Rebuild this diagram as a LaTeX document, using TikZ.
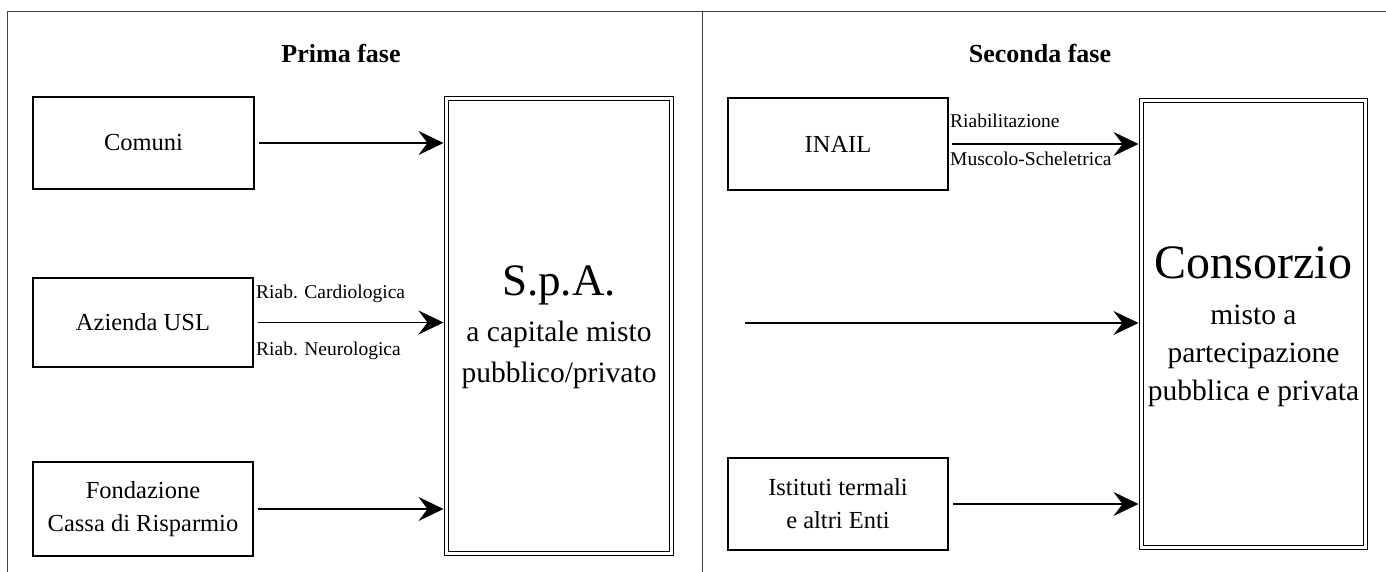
\documentclass[tikz,border=0pt]{standalone}
\usepackage{fontspec}
\setmainfont{Liberation Serif}
\usetikzlibrary{arrows.meta}
\begin{document}
\begin{tikzpicture}[x=1pt,y=-1pt,
  frameline/.style={line width=1pt,draw=black!75},
  entity/.style={draw,line width=2.4pt,rectangle,inner sep=0pt,align=center,
    font=\fontsize{24.5}{33}\selectfont},
  body/.style={draw,line width=1.2pt,double=white,double distance=2.4pt,
    rectangle,inner sep=0pt},
  arr/.style={line width=1.3pt,-{Stealth[length=25pt,width=24pt,inset=9pt]}},
  lbl/.style={inner sep=0pt,font=\fontsize{19.5}{22}\selectfont},
  title/.style={inner sep=0pt,font=\fontsize{26}{30}\bfseries\selectfont},
  big/.style={inner sep=0pt,anchor=base},
  sub/.style={inner sep=0pt,anchor=base,font=\fontsize{29.5}{34}\selectfont}]
\useasboundingbox (0,0) rectangle (1386,572);

% frame of the two phases
\draw[frameline] (7,572) -- (7,12) -- (1386,12);
\draw[frameline] (702,12) -- (702,572);

% titles
\node[title,anchor=base] (t1) at (341,63) {Prima fase};
\node[title,anchor=base] (t2) at (1040,63) {Seconda fase};

% first phase
\node[entity,minimum width=221pt,minimum height=92pt] (comuni) at (143.5,143) {Comuni};
\node[entity,minimum width=220pt,minimum height=89pt] (usl) at (143,322.5) {Azienda USL};
\node[entity,minimum width=220pt,minimum height=94pt] (fond) at (143,509)
  {Fondazione\\Cassa di Risparmio};
\node[body,minimum width=225pt,minimum height=455pt] (spa) at (559,326) {};
\node[big,font=\fontsize{45}{50}\selectfont] (spat) at (559,295) {S.p.A.};
\node[sub] (spa1) at (559,341) {a capitale misto};
\node[sub] (spa2) at (559,382) {pubblico/privato};

\draw[arr,shorten >=2.4pt] ([xshift=4pt]comuni.east) -- (comuni.east -| spa.west);
\draw[arr,shorten >=2.4pt] ([xshift=4pt]usl.east) -- (usl.east -| spa.west);
\draw[arr,shorten >=2.4pt] ([xshift=4pt]fond.east) -- (fond.east -| spa.west);
\node[lbl,anchor=base west] (cardio) at (256,298) {Riab. Cardiologica};
\node[lbl,anchor=base west] (neuro) at (256,355) {Riab. Neurologica};

% second phase
\node[entity,minimum width=220pt,minimum height=92pt] (inail) at (838,144) {INAIL};
\node[entity,minimum width=220pt,minimum height=92pt] (ist) at (838,504)
  {Istituti termali\\e altri Enti};
\node[body,minimum width=224pt,minimum height=447pt] (cons) at (1253.5,324) {};
\node[big,font=\fontsize{48}{54}\selectfont] (const) at (1253.5,278) {Consorzio};
\node[sub] (cons1) at (1253.5,324) {misto a};
\node[sub] (cons2) at (1253.5,362) {partecipazione};
\node[sub] (cons3) at (1253.5,400) {pubblica e privata};

\coordinate (mstart) at (745,323);
\draw[arr,shorten >=2.4pt] ([xshift=3pt]inail.east) -- (inail.east -| cons.west);
\draw[arr,shorten >=2.4pt] (mstart) -- (mstart -| cons.west);
\draw[arr,shorten >=2.4pt] ([xshift=4pt]ist.east) -- (ist.east -| cons.west);
\node[lbl,anchor=base west] (riab) at (950,128) {Riabilitazione};
\node[lbl,anchor=base west] (musc) at (950,166) {Muscolo-Scheletrica};
\end{tikzpicture}
\end{document}
